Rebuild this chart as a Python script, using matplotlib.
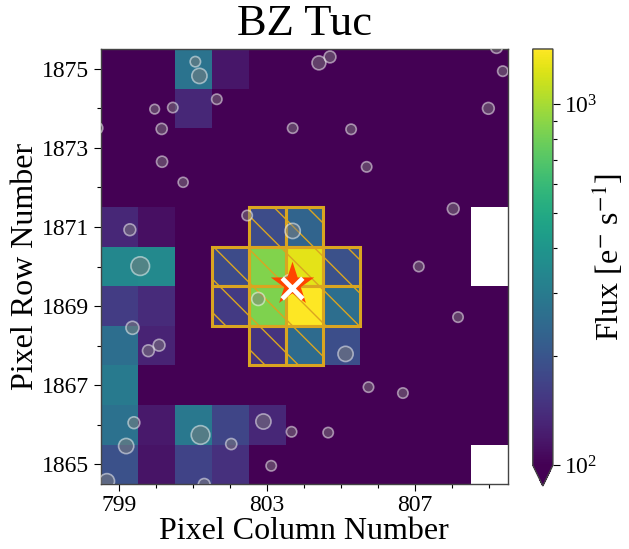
import numpy as np
import matplotlib
matplotlib.use('Agg')
import matplotlib.pyplot as plt
from matplotlib.colors import LogNorm
from matplotlib.patches import Rectangle

# pixel grid
columns = np.arange(799, 810)
rows = np.arange(1865, 1876)

bg = 90.0          # below vmin -> drawn with the "under" colour
nan = np.nan
# flux per pixel, bottom row (1865) first, columns 799..809
flux = [
    [194, 115, 170, 145, bg, bg, bg, bg, bg, bg, nan],
    [270, 120, 290, 175, 134, bg, bg, bg, bg, bg, bg],
    [296, bg, bg, bg, bg, bg, bg, bg, bg, bg, bg],
    [260, 130, bg, bg, 149, 253, 189, bg, bg, bg, bg],
    [161, 138, bg, 157, 850, 1420, 260, bg, bg, bg, bg],
    [340, 350, bg, 184, 860, 1276, 194, bg, bg, bg, nan],
    [135, 112, bg, bg, 185, 234, bg, bg, bg, bg, nan],
    [bg, bg, bg, bg, bg, bg, bg, bg, bg, bg, bg],
    [bg, bg, bg, bg, bg, bg, bg, bg, bg, bg, bg],
    [bg, bg, 135, bg, bg, bg, bg, bg, bg, bg, bg],
    [bg, bg, 274, 117, bg, bg, bg, bg, bg, bg, bg],
]

# aperture pixels
ap_cols = [803, 804, 802, 803, 804, 805, 802, 803, 804, 805, 803, 804]
ap_rows = [1871, 1871, 1870, 1870, 1870, 1870, 1869, 1869, 1869, 1869, 1868, 1868]

# nearby gaia sources
src_col = [801.06, 801.17, 801.64, 799.96, 800.45, 800.15, 803.69, 800.16, 800.73,
           804.40, 804.70, 809.20, 809.37, 808.98, 805.27, 805.69, 808.03, 802.46,
           803.69, 799.29, 799.57, 807.10, 802.76, 803.61, 808.16, 799.36, 800.08,
           799.79, 805.12, 805.74, 806.67, 799.40, 801.20, 802.90, 803.66, 804.65,
           799.19, 802.03, 803.11, 798.67, 801.30, 798.40]
src_row = [1875.18, 1874.82, 1874.23, 1873.98, 1874.02, 1873.48, 1873.50, 1872.65, 1872.13,
           1875.15, 1875.30, 1875.54, 1874.94, 1874.00, 1873.47, 1872.52, 1871.46, 1871.29,
           1870.90, 1870.93, 1870.01, 1870.00, 1869.18, 1869.62, 1868.72, 1868.45, 1868.01,
           1867.87, 1867.79, 1866.95, 1866.80, 1866.05, 1865.74, 1866.08, 1865.82, 1865.80,
           1865.46, 1865.51, 1864.96, 1864.57, 1864.49, 1873.50]
src_size = [14, 30, 14, 12, 14, 16, 14, 16, 13,
            25, 18, 18, 14, 18, 14, 14, 18, 14,
            30, 18, 45, 14, 22, 25, 14, 22, 18,
            18, 30, 14, 14, 18, 45, 30, 14, 14,
            30, 16, 14, 30, 18, 18]

target_col, target_row = 803.66, 1869.45

plt.rcParams['font.family'] = ['Liberation Serif', 'DejaVu Serif']
plt.rcParams['mathtext.fontset'] = 'stix'
plt.rcParams['hatch.linewidth'] = 0.5

fig = plt.figure(figsize=(3.145, 2.745), dpi=200)
ax = fig.add_axes([0.160, 0.1184, 0.647, 0.7923])
cax = fig.add_axes([0.847, 0.1148, 0.032, 0.796])

cmap = plt.get_cmap('viridis').copy()
cmap.set_under(cmap(0.0))
norm = LogNorm(vmin=100, vmax=1420)
im = ax.imshow(np.array(flux, dtype=float), origin='lower', cmap=cmap, norm=norm,
               extent=(columns[0] - 0.5, columns[-1] + 0.5, rows[0] - 0.5, rows[-1] + 0.5),
               aspect='auto', interpolation='nearest')

for c, r in zip(ap_cols, ap_rows):
    ax.add_patch(Rectangle((c - 0.5, r - 0.5), 1, 1, fill=False, edgecolor='#daa520',
                           hatch='\\\\', lw=1.1, zorder=3))

ax.scatter(src_col, src_row, s=src_size, facecolors='grey', edgecolors='white',
           linewidths=0.6, alpha=0.5, zorder=4, clip_on=True)
ax.scatter(target_col, target_row + 0.1, s=270, marker='*', color='#ff4500', zorder=5,
           linewidths=0)
ax.scatter(target_col, target_row, s=55, marker='x', color='white', linewidths=1.7, zorder=6)

ax.set_xlim(columns[0] - 0.5, columns[-1] + 0.5)
ax.set_ylim(rows[0] - 0.5, rows[-1] + 0.5)
ax.set_xticks([799, 803, 807])
ax.set_xticks(columns, minor=True)
ax.set_yticks(rows[::2])
ax.set_yticks(rows, minor=True)
ax.tick_params(which='major', length=2.5, width=0.4, labelsize=8.5, pad=1.5)
ax.tick_params(which='minor', length=1.4, width=0.4)
for sp in ax.spines.values():
    sp.set_linewidth(0.5)
    sp.set_color('#444444')

ax.set_xlabel('Pixel Column Number', fontsize=11.5, labelpad=0.5)
ax.set_ylabel('Pixel Row Number', fontsize=11.5, labelpad=1)
ax.set_title('BZ Tuc', fontsize=16, pad=5)

cb = fig.colorbar(im, cax=cax, extend='min')
cb.outline.set_linewidth(0.5)
cb.outline.set_edgecolor('#444444')
cax.tick_params(which='major', length=2.5, width=0.4, labelsize=8.5, pad=1.5)
cax.tick_params(which='minor', length=1.4, width=0.4)
cb.set_label(r'Flux [e$^{-}$ s$^{-1}$]', fontsize=11.5, labelpad=-2.5)

fig.savefig('out.png', dpi=200)
